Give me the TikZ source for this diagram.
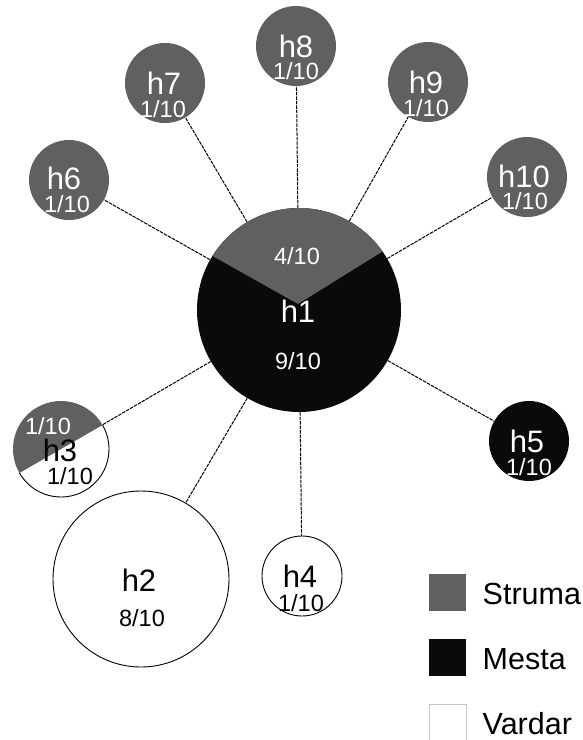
\documentclass[tikz,border=0pt]{standalone}
\usepackage{fontspec}
\setmainfont{Liberation Sans}
\definecolor{strumagray}{RGB}{96,96,96}
\definecolor{mestablack}{RGB}{10,10,10}
\definecolor{legendedge}{RGB}{200,200,200}
\begin{document}
\begin{tikzpicture}[x=1pt,y=-1pt,
  hap/.style={circle,inner sep=0pt,minimum size=80pt},
  strumanode/.style={hap,fill=strumagray},
  mestanode/.style={hap,fill=mestablack},
  vardarnode/.style={hap,fill=white,draw=black,line width=0.9pt},
  conn/.style={line width=1pt,dash pattern=on 3.5pt off 1pt},
  nametext/.style={inner sep=0pt,anchor=base,text depth=0pt,font=\fontsize{31}{32}\selectfont},
  fractext/.style={inner sep=0pt,anchor=base,text depth=0pt,text height=16.8pt,font=\fontsize{23.5}{24}\selectfont},
  legendtext/.style={inner sep=0pt,anchor=base west,font=\fontsize{30.5}{32}\selectfont},
  legendbox/.style={minimum size=37pt,inner sep=0pt,anchor=north west}
]
\useasboundingbox (0,0) rectangle (582,740);
% central haplotype h1
\node[circle,inner sep=0pt,minimum size=204pt,fill=mestablack] (h1) at (299,310) {};
\fill[strumagray] (298,304) -- ([shift={(-148:102)}]h1.center)
  arc[start angle=-148,end angle=-35,radius=102] -- cycle;
% peripheral haplotypes
\node[strumanode] (h8) at (296,46) {};
\node[strumanode] (h7) at (165,83) {};
\node[strumanode] (h9) at (428,82) {};
\node[strumanode] (h10) at (527,177) {};
\node[strumanode] (h6) at (69,180) {};
\node[mestanode] (h5) at (529,441) {};
\node[vardarnode] (h4) at (302,576) {};
\node[vardarnode,minimum size=176pt] (h2) at (141,579) {};
\node[hap,minimum size=96pt,fill=white] (h3) at (61,449) {};
\fill[strumagray] ([shift={(-30:48)}]h3.center) arc[start angle=-30,end angle=-210,radius=48] -- cycle;
\draw[line width=0.9pt] ([shift={(-30:48)}]h3.center) arc[start angle=-30,end angle=150,radius=48];
% connectors
\foreach \h in {h2,h3,h4,h5,h6,h7,h8,h9,h10}
  \draw[conn] (h1) -- (\h);
% labels
\node[nametext,text=white] (h1n) at (298,322.3) {h1};
\node[fractext,text=white] (h1s) at (297,264.4) {4/10};
\node[fractext,text=white] (h1m) at (298,369.4) {9/10};
\node[nametext,text=white] (h8n) at (296,57) {h8};
\node[fractext,text=white] (h8f) at (296,79.8) {1/10};
\node[nametext,text=white] (h7n) at (164,94.2) {h7};
\node[fractext,text=white] (h7f) at (163,117.6) {1/10};
\node[nametext,text=white] (h9n) at (426,93) {h9};
\node[fractext,text=white] (h9f) at (426,116.8) {1/10};
\node[nametext,text=white] (h10n) at (524,187) {h10};
\node[fractext,text=white] (h10f) at (525,209.8) {1/10};
\node[nametext,text=white] (h6n) at (64,189.2) {h6};
\node[fractext,text=white] (h6f) at (67,212.6) {1/10};
\node[nametext,text=white] (h5n) at (527,452) {h5};
\node[fractext,text=white] (h5f) at (529,475.8) {1/10};
\node[nametext] (h4n) at (300,587) {h4};
\node[fractext] (h4f) at (301,611.8) {1/10};
\node[nametext] (h2n) at (139,591.3) {h2};
\node[fractext] (h2f) at (142,626.4) {8/10};
\node[fractext,text=white] (h3s) at (48,434.4) {1/10};
\node[nametext] (h3n) at (60,461.3) {h3};
\node[fractext] (h3v) at (70,484.8) {1/10};
% legend
\node[legendbox,fill=strumagray] (ls) at (429,574) {};
\node[legendbox,fill=mestablack] (lm) at (429,639) {};
\node[legendbox,fill=white,draw=legendedge,line width=0.8pt] (lv) at (429,704) {};
\node[legendtext] (lst) at (482.5,604) {Struma};
\node[legendtext] (lmt) at (482.5,669) {Mesta};
\node[legendtext] (lvt) at (482.5,734) {Vardar};
\end{tikzpicture}
\end{document}
